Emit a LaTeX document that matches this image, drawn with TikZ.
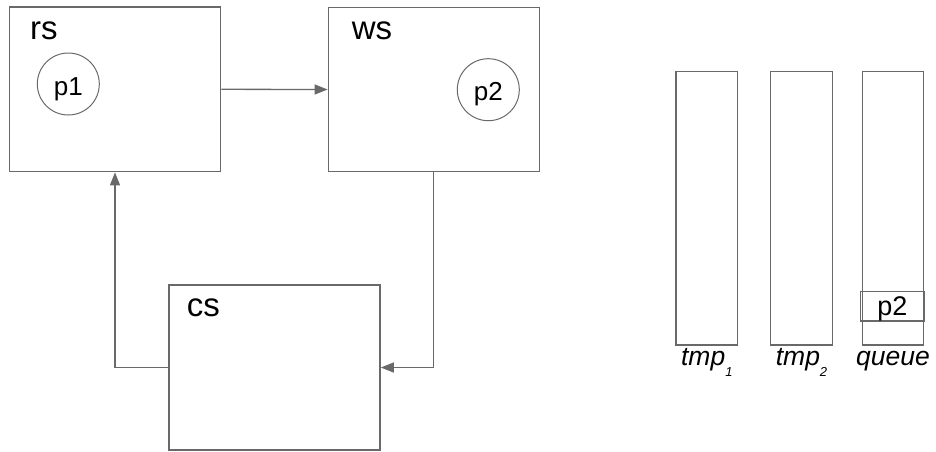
\documentclass[tikz,border=0pt]{standalone}
\usepackage{fontspec}
\setmainfont{Liberation Sans}
\usetikzlibrary{arrows.meta}
\definecolor{lc}{RGB}{105,105,105}
\begin{document}
\begin{tikzpicture}[x=1pt,y=-1pt,
 box/.style={draw=lc,line width=1.4pt,rectangle,inner sep=0pt},
 proc/.style={draw=lc,line width=1pt,circle,inner sep=0pt,minimum size=62pt,font=\fontsize{26}{26}\selectfont,text height=22pt,text depth=0pt},
 conn/.style={draw=lc,line width=1.3pt,-{Triangle[length=13pt,width=10pt]}},
 title/.style={anchor=base west,inner sep=0pt,font=\fontsize{33}{33}\selectfont},
 lbl/.style={anchor=base,inner sep=0pt,font=\fontsize{26.5}{26.5}\selectfont\itshape},
 stack/.style={box,minimum width=61.5pt,minimum height=273.3pt}]
\useasboundingbox (0,0) rectangle (936,451);
% main boxes
\node[box,minimum width=211.4pt,minimum height=164.7pt] (rs) at (115,89.3) {};
\node[box,minimum width=211pt,minimum height=164.4pt] (ws) at (433.8,89.5) {};
\node[box,minimum width=211pt,minimum height=165pt] (cs) at (274.6,367.5) {};
\node[title] (rst) at (30,39.3) {rs};
\node[title] (wst) at (351.7,39.3) {ws};
\node[title] (cst) at (186.7,316.7) {cs};
\node[proc] (p1) at (68.3,84) {p1};
\node[proc] (p2) at (488.3,89.7) {p2};
% connectors
\draw[conn] (rs.east) -- (ws.west);
\draw[conn] (ws.south) |- (cs.east);
\draw[conn] (cs.west) -| (rs.south);
% stacks
\node[stack] (tmp1) at (706.8,208.4) {};
\node[stack] (tmp2) at (801.5,208.4) {};
\node[stack] (queue) at (893,208.4) {};
\node[box,minimum width=63.3pt,minimum height=29.3pt,font=\fontsize{27}{27}\selectfont,text height=19pt,text depth=0pt] (qp2) at (892.3,306.3) {p2};
\node[lbl] (l1) at ([yshift=-20pt]tmp1.south) {tmp\raisebox{-11pt}{\fontsize{13}{13}\selectfont 1}};
\node[lbl] (l2) at ([yshift=-20pt]tmp2.south) {tmp\raisebox{-11pt}{\fontsize{13}{13}\selectfont 2}};
\node[lbl] (l3) at ([yshift=-20pt]queue.south) {queue};
\end{tikzpicture}
\end{document}
